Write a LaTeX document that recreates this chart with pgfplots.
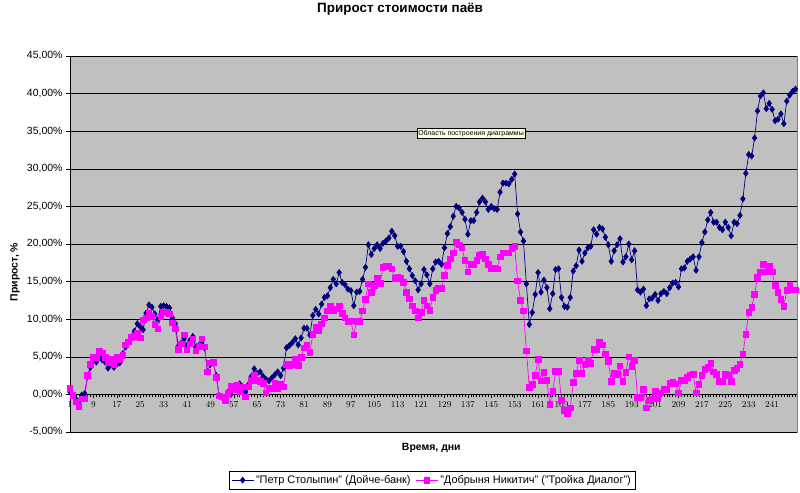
\documentclass[border=0pt]{standalone}
\usepackage{fontspec}
\setmainfont{Liberation Sans}
\usepackage{pgfplots}
\usepackage{pgfplotstable}
\pgfplotsset{compat=1.18}
\definecolor{plotgray}{RGB}{192,192,192}
\definecolor{navyc}{RGB}{0,0,128}
\definecolor{magc}{RGB}{255,0,255}
\definecolor{tipy}{RGB}{255,255,225}

\pgfplotstableread{
i b p
1 0.3 0.8
2 -0.2 -0.1
3 -0.6 -1.0
4 -1.2 -1.6
5 -0.1 -0.6
6 0.1 -0.6
7 2.4 2.5
8 3.6 4.0
9 4.5 4.9
10 4.3 4.9
11 5.0 5.8
12 4.6 5.5
13 4.3 4.9
14 3.5 4.2
15 3.9 4.7
16 3.6 4.0
17 4.0 4.9
18 4.2 4.6
19 5.4 5.2
20 6.3 6.6
21 6.9 7.0
22 7.6 7.6
23 8.4 7.7
24 9.4 8.2
25 9.0 7.5
26 8.6 9.9
27 10.8 10.2
28 11.9 10.8
29 11.6 10.4
30 10.7 9.3
31 9.9 8.7
32 11.7 10.3
33 11.8 10.9
34 11.7 10.9
35 11.5 10.7
36 10.2 9.5
37 9.4 8.7
38 6.4 6.0
39 6.8 6.7
40 7.4 7.9
41 6.5 5.9
42 7.2 6.7
43 7.7 7.4
44 6.3 5.8
45 6.5 6.4
46 6.8 7.4
47 6.2 6.3
48 3.0 3.0
49 4.0 4.2
50 4.2 4.3
51 2.5 2.3
52 -0.2 -0.2
53 -0.4 -0.3
54 -0.7 -0.8
55 0.3 0.1
56 0.0 1.1
57 0.7 0.6
58 0.9 1.2
59 1.4 0.4
60 1.0 1.0
61 0.3 -0.3
62 1.3 1.0
63 2.4 1.9
64 3.4 2.5
65 2.8 1.9
66 3.0 1.7
67 2.4 1.5
68 2.0 0.2
69 1.8 0.8
70 2.2 0.8
71 2.6 1.5
72 3.0 0.8
73 2.5 1.4
74 3.5 1.0
75 6.2 4.0
76 6.5 3.8
77 6.9 4.0
78 7.4 4.7
79 6.6 3.9
80 7.5 4.9
81 8.8 6.2
82 8.8 6.6
83 7.9 5.6
84 10.5 8.0
85 11.3 8.9
86 10.7 8.5
87 12.0 9.4
88 12.9 10.2
89 13.1 11.1
90 14.2 11.7
91 15.3 11.1
92 14.7 11.4
93 16.2 11.8
94 14.9 10.8
95 14.6 10.2
96 14.0 9.7
97 13.8 9.8
98 11.8 7.9
99 13.6 9.7
100 13.7 9.7
101 15.3 11.1
102 16.9 12.6
103 19.9 14.7
104 18.6 13.6
105 19.4 14.5
106 19.9 15.4
107 19.4 14.8
108 20.1 16.9
109 20.4 17.0
110 20.8 17.1
111 21.7 16.7
112 21.1 15.4
113 19.7 15.6
114 19.7 15.4
115 19.0 14.9
116 17.7 13.6
117 16.7 12.7
118 15.8 11.8
119 15.1 11.1
120 13.9 10.2
121 14.7 10.9
122 16.6 12.5
123 15.9 11.8
124 14.7 11.2
125 16.7 12.9
126 17.6 13.8
127 17.7 14.1
128 17.3 14.1
129 19.5 15.8
130 21.4 17.2
131 22.3 18.0
132 23.7 18.8
133 25.0 20.2
134 24.8 19.9
135 24.2 19.5
136 23.3 17.8
137 21.3 16.3
138 23.1 17.3
139 23.1 17.3
140 24.2 17.8
141 25.6 18.5
142 26.1 18.7
143 25.6 18.0
144 24.6 17.3
145 25.0 16.8
146 24.7 16.8
147 24.6 16.7
148 26.9 18.3
149 28.1 18.8
150 28.1 18.8
151 28.0 18.8
152 28.6 19.4
153 29.3 19.7
154 24.0 15.1
155 21.6 12.5
156 20.4 11.1
157 14.7 5.8
158 9.3 0.9
159 10.9 1.3
160 13.3 2.5
161 16.2 4.7
162 13.6 1.8
163 15.2 2.9
164 14.2 1.9
165 11.4 -1.3
166 13.4 0.4
167 16.6 3.1
168 16.7 3.1
169 12.9 -0.8
170 11.7 -2.1
171 11.6 -2.6
172 12.9 -1.8
173 16.4 1.6
174 17.1 2.8
175 19.2 4.5
176 17.7 2.8
177 18.8 4.0
178 19.5 4.5
179 19.7 4.1
180 21.9 6.0
181 21.3 6.0
182 22.2 6.9
183 22.0 6.6
184 20.9 5.3
185 19.9 4.4
186 17.7 1.7
187 19.1 2.8
188 19.9 2.7
189 20.7 3.8
190 17.6 1.7
191 18.3 2.9
192 20.0 5.0
193 17.9 3.7
194 19.1 4.5
195 13.9 -0.4
196 13.6 -0.4
197 14.0 0.7
198 11.8 -1.8
199 12.7 -0.8
200 12.8 -0.6
201 13.3 0.4
202 12.5 -0.6
203 13.4 0.2
204 13.7 0.7
205 13.4 0.7
206 14.2 1.5
207 14.8 1.6
208 14.9 1.4
209 14.3 0.2
210 16.7 1.9
211 16.8 1.9
212 17.7 2.3
213 18.0 2.6
214 18.3 2.7
215 16.5 0.2
216 18.3 1.3
217 20.2 2.5
218 21.6 3.3
219 23.2 3.6
220 24.2 4.1
221 22.9 3.0
222 22.9 2.7
223 22.2 1.7
224 21.9 1.7
225 22.9 2.7
226 22.2 2.5
227 21.1 1.7
228 22.9 3.2
229 22.7 3.5
230 23.8 4.0
231 26.0 5.4
232 29.4 8.0
233 31.9 10.9
234 31.7 11.6
235 34.1 13.3
236 37.7 15.6
237 39.7 16.3
238 40.1 17.3
239 38.0 16.3
240 38.7 17.1
241 37.9 16.3
242 36.4 14.5
243 36.6 13.6
244 37.3 12.6
245 36.0 11.7
246 39.0 13.8
247 39.8 14.5
248 40.3 13.9
249 40.6 13.9
}\data

\begin{document}
\begin{tikzpicture}
\path[use as bounding box] (-70bp,-61bp) rectangle (730bp,432bp);
\begin{axis}[
  scale only axis, width=727bp, height=376bp,
  xmin=1, xmax=249.5, ymin=-5, ymax=45,
  axis background/.style={fill=plotgray, draw=black!50},
  axis x line*=middle, axis y line*=left,
  hide obscured x ticks=false,
  x axis line style={black, line width=0.6bp, -},
  y axis line style={black, line width=0.6bp, -},
  ytick={-5,0,...,45},
  yticklabels={{-5,00\%},{0,00\%},{5,00\%},{10,00\%},{15,00\%},{20,00\%},{25,00\%},{30,00\%},{35,00\%},{40,00\%},{45,00\%}},
  xtick={1,9,...,241},
  minor xtick={1,...,249},
  ymajorgrids, major grid style={black, line width=0.6bp},
  tick align=outside,
  major tick length=4bp, minor tick length=3bp,
  tick style={black, line width=0.5bp},
  y tick label style={font=\fontsize{10.5}{12}\selectfont},
  x tick label style={font=\fontsize{9.5}{10}\selectfont},
  title={Прирост стоимости паёв},
  title style={at={(axis description cs:0.454,1.109)}, anchor=center, font=\bfseries\fontsize{13.5}{15}\selectfont},
  xlabel={Время, дни},
  xlabel style={at={(axis description cs:0.497,-0.043)}, anchor=center, font=\bfseries\fontsize{10.5}{12}\selectfont},
  ylabel={Прирост, \%},
  ylabel style={at={(axis description cs:-0.0757,0.4255)}, anchor=center, font=\bfseries\fontsize{10.5}{12}\selectfont},
  legend image code/.code={\draw[mark repeat=2, mark phase=2] plot coordinates {(0bp,0bp) (11bp,0bp) (22bp,0bp)};},
  legend style={at={(axis description cs:0.498,-0.128)}, anchor=center, draw=black, line width=0.5bp, fill=white,
    legend columns=2, font=\fontsize{11}{13}\selectfont, inner xsep=2bp, inner ysep=2.5bp,
    /tikz/every even column/.append style={column sep=3bp}},
]
\addplot[navyc, line width=0.7bp, mark=diamond*, mark size=3bp, mark options={fill=navyc, draw=navyc}] table[x=i, y=b] {\data};
\addlegendentry{"Петр Столыпин" (Дойче-банк)}
\addplot[magc, line width=0.7bp, mark=square*, mark size=2.8bp, mark options={fill=magc, draw=magc}] table[x=i, y=p] {\data};
\addlegendentry{"Добрыня Никитич" ("Тройка Диалог")}
\node[fill=tipy, draw=black, line width=0.4bp, font=\fontsize{7}{8}\selectfont, inner sep=1.5bp] at (axis description cs:0.5516,0.794) {Область построения диаграммы};
\end{axis}
\end{tikzpicture}
\end{document}
